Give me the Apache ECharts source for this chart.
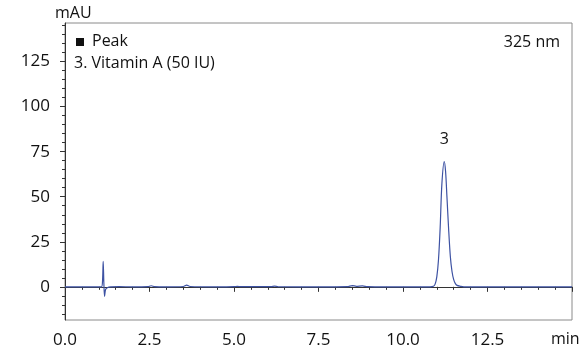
<!DOCTYPE html>
<html>
<head>
<meta charset="utf-8">
<script src="https://cdn.jsdelivr.net/npm/echarts@6/dist/echarts.min.js"></script>
<style>
  html, body { margin:0; padding:0; background:#fff; }
  #chart { width:583px; height:349px; }
</style>
</head>
<body>
<div id="chart"></div>
<script type="text/javascript">
// chromatogram trace: [time (min), signal (mAU)]
var traceTime = [0.0, 0.5, 1.0, 1.08, 1.11, 1.13, 1.15, 1.17, 1.20, 1.25, 1.35, 1.6, 2.0, 2.45, 2.55, 2.65, 3.0, 3.5, 3.6, 3.7, 4.5, 5.0, 5.1, 5.2, 6.1, 6.2, 6.3, 7.5, 8.35, 8.5, 8.62, 8.8, 8.95, 9.5, 10.5, 10.8, 10.9, 10.95, 11.0, 11.05, 11.1, 11.15, 11.22, 11.26, 11.3, 11.35, 11.4, 11.45, 11.5, 11.55, 11.6, 11.7, 11.8, 12.5, 13.5, 15.0];
var traceValue = [0.0, 0.0, 0.0, 0.0, 3.0, 14.2, 2.0, -5.3, -1.5, -0.5, 0.0, 0.1, 0.0, 0.1, 0.6, 0.1, 0.0, 0.2, 0.9, 0.2, 0.0, 0.1, 0.3, 0.1, 0.1, 0.4, 0.1, 0.0, 0.1, 0.7, 0.3, 0.5, 0.1, 0.0, 0.0, 0.0, 0.3, 1.5, 5.5, 15.0, 33.0, 57.0, 69.5, 64.0, 50.0, 32.0, 17.0, 8.5, 4.0, 1.8, 0.8, 0.3, 0.0, 0.0, 0.0, 0.0];

var peakNames = ['3'];
var peakTime = [11.22];
var peakHeight = [69.5];

var yMajorTicks = [0, 25, 50, 75, 100, 125];
var yMinorTicks = [-15, -10, -5, 5, 10, 15, 20, 30, 35, 40, 45, 55, 60, 65, 70, 80, 85, 90, 95, 105, 110, 115, 120, 130, 135, 140, 145];

var traceData = traceTime.map(function (t, i) { return [t, traceValue[i]]; });
var peakPoints = peakNames.map(function (n, i) {
    return { name: n, coord: [peakTime[i], peakHeight[i]] };
});

var font = '"Open Sans", "Noto Sans", sans-serif';
var myChart = echarts.init(document.getElementById('chart'));
var option = {
    animation: false,
    grid: {
        left: 65, right: 11, top: 23, bottom: 27,
        show: true, borderColor: '#8a8a8a', borderWidth: 1
    },
    xAxis: {
        type: 'value',
        min: 0, max: 15, interval: 2.5,
        axisLine: { lineStyle: { color: '#333', width: 1 } },
        axisTick: { length: 5, lineStyle: { color: '#333' } },
        minorTick: { show: true, splitNumber: 5, length: 3, lineStyle: { color: '#333' } },
        splitLine: { show: false },
        axisLabel: {
            color: '#111', fontFamily: font, fontSize: 17, margin: 12,
            formatter: function (v) { return v >= 15 ? '' : v.toFixed(1); }
        }
    },
    yAxis: [{
        type: 'value',
        min: -18.4, max: 146.4,
        axisLine: { show: true, lineStyle: { color: '#333', width: 1 } },
        axisTick: { show: true, length: 3, customValues: yMinorTicks, lineStyle: { color: '#333' } },
        splitLine: { show: false },
        axisLabel: {
            color: '#111', fontFamily: font, fontSize: 17, margin: 15,
            customValues: yMajorTicks
        }
    }, {
        type: 'value',
        min: -18.4, max: 146.4,
        position: 'left',
        axisLine: { show: false },
        axisTick: { show: true, length: 5, customValues: yMajorTicks, lineStyle: { color: '#333' } },
        splitLine: { show: false },
        axisLabel: { show: false }
    }],
    series: [{
        type: 'line',
        data: traceData,
        showSymbol: false,
        smooth: 0.3,
        lineStyle: { color: '#3d52a3', width: 1.2 },
        itemStyle: { color: '#3d52a3' },
        markPoint: {
            symbol: 'circle', symbolSize: 0,
            label: {
                show: true, position: 'top', distance: 14,
                color: '#111', fontFamily: font, fontSize: 16,
                formatter: '{b}'
            },
            data: peakPoints
        }
    }],
    graphic: [
        { type: 'text', left: 55, top: 5, style: { text: 'mAU', fill: '#111', font: '16px ' + font } },
        { type: 'rect', left: 76, top: 38, shape: { width: 8, height: 8 }, style: { fill: '#111' } },
        { type: 'text', left: 92, top: 33, style: { text: 'Peak', fill: '#111', font: '16px ' + font } },
        { type: 'text', left: 74, top: 55, style: { text: '3. Vitamin A (50 IU)', fill: '#111', font: '16px ' + font } },
        { type: 'text', right: 23, top: 34, style: { text: '325 nm', fill: '#111', font: '16px ' + font } },
        { type: 'text', left: 551, top: 331, style: { text: 'min', fill: '#111', font: '16px ' + font } }
    ]
};
myChart.setOption(option);
</script>
</body>
</html>
